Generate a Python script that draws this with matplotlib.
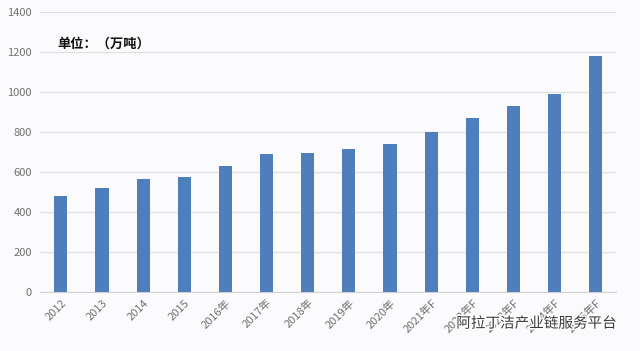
import matplotlib
matplotlib.use("Agg")
import matplotlib.pyplot as plt
import matplotlib.patheffects as pe

plt.rcParams["font.family"] = ["Noto Sans CJK SC", "DejaVu Sans"]

years = ["2012", "2013", "2014", "2015", "2016年", "2017年", "2018年", "2019年",
         "2020年", "2021年F", "2022年F", "2023年F", "2024年F", "2025年F"]
output = [480, 520, 565, 575, 632, 692, 697, 717, 742, 798, 872, 928, 990, 1178]
yticks = [0, 200, 400, 600, 800, 1000, 1200, 1400]

fig = plt.figure(figsize=(6.4, 3.51), dpi=100)
fig.patch.set_facecolor("#FBFBFD")
ax = fig.add_axes([0.063, 0.168, 0.900, 0.798])
ax.set_facecolor("#FBFBFD")

x = range(len(years))
ax.bar(x, output, width=0.32, color="#4E7EBB", zorder=3)

ax.set_ylim(0, 1400)
ax.set_xlim(-0.5, len(years) - 0.5)
ax.set_yticks(yticks)
ax.set_xticks(list(x))
ax.set_xticklabels(years, rotation=45, ha="right", rotation_mode="anchor")
ax.tick_params(axis="both", length=0, labelsize=8, labelcolor="#707070", pad=6)
ax.tick_params(axis="x", pad=4)
ax.grid(axis="y", color="#E0E0E0", lw=0.9, zorder=0)
for s in ["top", "right", "left"]:
    ax.spines[s].set_visible(False)
ax.spines["bottom"].set_color("#D0D0D0")

ax.text(0.03, 0.885, "单位：（万吨）", transform=ax.transAxes, fontsize=9.5,
        fontweight="bold", color="#111111", va="center")

# watermark
fig.text(0.713, 0.078, "阿拉丁洁产业链服务平台", fontsize=10.5, color="#3a3a3a",
         va="center", path_effects=[pe.withStroke(linewidth=2, foreground="white")])

plt.savefig("out.png", dpi=100, facecolor=fig.get_facecolor())
